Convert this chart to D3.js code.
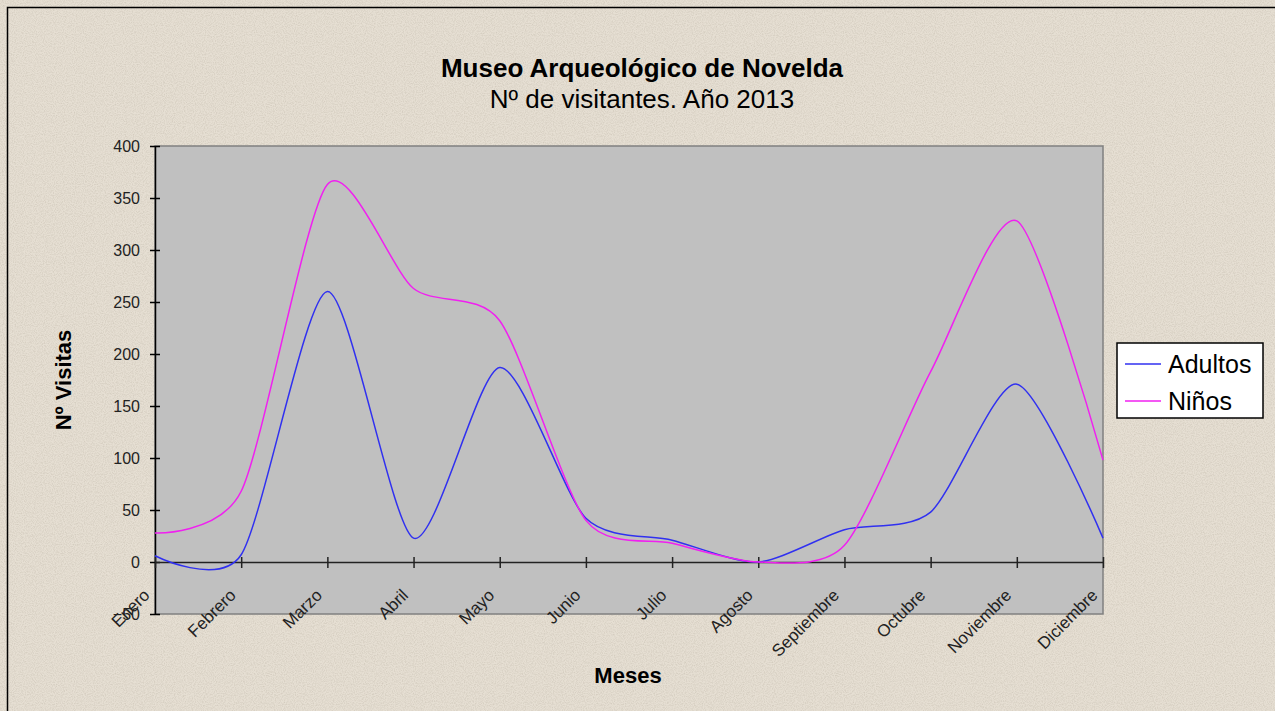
<!DOCTYPE html>
<html>
<head>
<meta charset="utf-8">
<script src="https://cdn.jsdelivr.net/npm/d3@7"></script>
<style>
  body { margin: 0; background: #e6dfd3; }
  svg { display: block; font-family: "Liberation Sans", Arial, sans-serif; }
</style>
</head>
<body>
<div id="chart"></div>
<script>
// datos
var meses = ["Enero", "Febrero", "Marzo", "Abril", "Mayo", "Junio", "Julio",
  "Agosto", "Septiembre", "Octubre", "Noviembre", "Diciembre"];
var adultos = [6, 7, 260, 23, 187, 42, 21, 0, 31, 48, 171, 23];
var ninos = [28, 68, 363, 263, 232, 40, 18, 0, 16, 183, 328, 98];
var yTicks = [-50, 0, 50, 100, 150, 200, 250, 300, 350, 400];
var series = [
  { name: "Adultos", values: adultos, color: "#3030f0" },
  { name: "Niños", values: ninos, color: "#f020f0" }
];

var width = 1275, height = 711;
var plotLeft = 155, plotRight = 1103, plotTop = 146, plotBottom = 614;

var svg = d3.select("#chart").append("svg")
  .attr("width", width)
  .attr("height", height);

// fondo tipo papel
var defs = svg.append("defs");
var f = defs.append("filter").attr("id", "paper");
f.append("feTurbulence")
  .attr("type", "fractalNoise")
  .attr("baseFrequency", 0.9)
  .attr("numOctaves", 2)
  .attr("seed", 3)
  .attr("result", "noise");
f.append("feColorMatrix")
  .attr("in", "noise")
  .attr("type", "matrix")
  .attr("values", "0 0 0 0 0.55  0 0 0 0 0.5  0 0 0 0 0.42  0 0 0 -1.8 1.15")
  .attr("result", "spots");
f.append("feComposite").attr("in", "spots").attr("in2", "SourceGraphic").attr("operator", "in");

svg.append("rect")
  .attr("width", width).attr("height", height)
  .attr("fill", "#e6dfd3");
svg.append("rect")
  .attr("width", width).attr("height", height)
  .attr("fill", "#e6dfd3")
  .attr("filter", "url(#paper)")
  .attr("opacity", 0.55);

svg.append("rect")
  .attr("x", 7.5).attr("y", 7.5)
  .attr("width", width).attr("height", height)
  .attr("fill", "none")
  .attr("stroke", "#000")
  .attr("stroke-width", 1.5);

var x = d3.scalePoint()
  .domain(meses)
  .range([plotLeft, plotRight]);
var y = d3.scaleLinear()
  .domain([-50, 400])
  .range([plotBottom, plotTop]);

// area del grafico
svg.append("rect")
  .attr("x", plotLeft).attr("y", plotTop)
  .attr("width", plotRight - plotLeft).attr("height", plotBottom - plotTop)
  .attr("fill", "#c0c0c0")
  .attr("stroke", "#808080")
  .attr("stroke-width", 1.5);

// eje Y
var yAxis = svg.append("g")
  .attr("transform", "translate(" + plotLeft + ",0)")
  .call(d3.axisLeft(y).tickValues(yTicks).tickSize(5).tickPadding(10).tickSizeOuter(0));
yAxis.select(".domain").attr("stroke", "#000").attr("stroke-width", 1.5);
yAxis.selectAll(".tick line").attr("stroke", "#000").attr("stroke-width", 1.5).attr("x2", 5).attr("x1", -5);
yAxis.selectAll(".tick text")
  .attr("fill", "#222")
  .style("font-size", "16px");

// eje X en cero
var xAxis = svg.append("g")
  .attr("transform", "translate(0," + y(0) + ")")
  .call(d3.axisBottom(x).tickSize(6).tickSizeOuter(0));
xAxis.select(".domain").attr("stroke", "#222").attr("stroke-width", 1.5);
xAxis.selectAll(".tick line").attr("stroke", "#222").attr("stroke-width", 1.5).attr("y1", -5);
xAxis.selectAll(".tick text")
  .attr("fill", "#222")
  .style("font-size", "17px")
  .style("text-anchor", "end")
  .attr("transform", "translate(-9,30) rotate(-45)")
  .attr("dy", "0.35em")
  .attr("y", 0)
  .attr("x", 0);

// lineas suavizadas
var line = d3.line()
  .x(function (d, i) { return x(meses[i]); })
  .y(function (d) { return y(d); })
  .curve(d3.curveCardinal.tension(0.25));

svg.append("g")
  .selectAll("path")
  .data(series)
  .enter().append("path")
  .attr("d", function (d) { return line(d.values); })
  .attr("fill", "none")
  .attr("stroke", function (d) { return d.color; })
  .attr("stroke-width", 1.5);

// titulos
svg.append("text")
  .text("Museo Arqueológico de Novelda")
  .attr("x", 642).attr("y", 77)
  .style("text-anchor", "middle")
  .style("font-size", "26px")
  .style("font-weight", "bold");
svg.append("text")
  .text("Nº de visitantes. Año 2013")
  .attr("x", 642).attr("y", 108)
  .style("text-anchor", "middle")
  .style("font-size", "26px");
svg.append("text")
  .text("Meses")
  .attr("x", 628).attr("y", 683)
  .style("text-anchor", "middle")
  .style("font-size", "22px")
  .style("font-weight", "bold");
svg.append("text")
  .text("Nº Visitas")
  .attr("transform", "translate(71,380) rotate(-90)")
  .style("text-anchor", "middle")
  .style("font-size", "22px")
  .style("font-weight", "bold");

// leyenda
var legend = svg.append("g").attr("transform", "translate(1117,343)");
legend.append("rect")
  .attr("width", 146).attr("height", 75)
  .attr("fill", "#fff")
  .attr("stroke", "#000")
  .attr("stroke-width", 1.5);
var item = legend.selectAll("g.item")
  .data(series)
  .enter().append("g")
  .attr("class", "item")
  .attr("transform", function (d, i) { return "translate(0," + (21 + i * 37) + ")"; });
item.append("line")
  .attr("x1", 8).attr("x2", 44)
  .attr("stroke", function (d) { return d.color; })
  .attr("stroke-width", 1.5);
item.append("text")
  .text(function (d) { return d.name; })
  .attr("x", 51).attr("dy", "0.35em")
  .style("font-size", "25px");
</script>
</body>
</html>
